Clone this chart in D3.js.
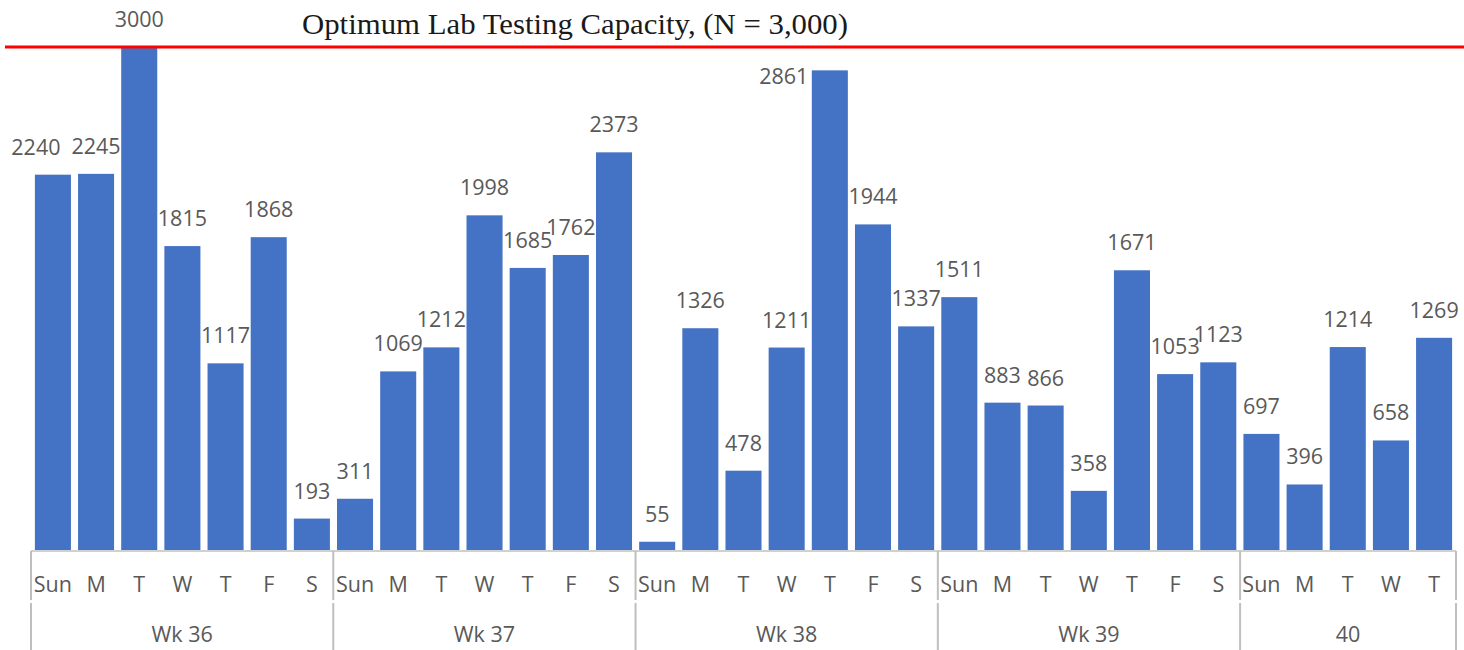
<!DOCTYPE html>
<html>
<head>
<meta charset="utf-8">
<script src="https://cdn.jsdelivr.net/npm/d3@7"></script>
<style>
  html, body { margin: 0; padding: 0; background: #ffffff; }
  svg { display: block; }
</style>
</head>
<body>
<svg id="chart" width="1464" height="650"></svg>
<script>
// ---- data ----
const weeks = ["Wk 36", "Wk 37", "Wk 38", "Wk 39", "40"];
const dayLabels = [
  ["Sun", "M", "T", "W", "T", "F", "S"],
  ["Sun", "M", "T", "W", "T", "F", "S"],
  ["Sun", "M", "T", "W", "T", "F", "S"],
  ["Sun", "M", "T", "W", "T", "F", "S"],
  ["Sun", "M", "T", "W", "T"]
];
const testsWk36 = [2240, 2245, 3000, 1815, 1117, 1868, 193];
const testsWk37 = [311, 1069, 1212, 1998, 1685, 1762, 2373];
const testsWk38 = [55, 1326, 478, 1211, 2861, 1944, 1337];
const testsWk39 = [1511, 883, 866, 358, 1671, 1053, 1123];
const testsWk40 = [697, 396, 1214, 658, 1269];
const capacity = 3000;
const titleText = "Optimum Lab Testing Capacity, (N = 3,000)";

// ---- build rows ----
const weekValues = [testsWk36, testsWk37, testsWk38, testsWk39, testsWk40];
const rows = [];
weekValues.forEach((vals, w) => {
  vals.forEach((v, d) => rows.push({ idx: rows.length, week: w, day: dayLabels[w][d], value: v }));
});

// ---- layout ----
const svg = d3.select("#chart");
const left = 31, right = 1456, base = 551;
const x = d3.scaleBand().domain(rows.map(r => r.idx)).range([left, right])
  .paddingInner(0.165).paddingOuter(0.09);
const y = d3.scaleLinear().domain([0, capacity]).range([base, 47]);

// bars
svg.append("g").selectAll("rect").data(rows).join("rect")
  .attr("x", d => x(d.idx))
  .attr("width", x.bandwidth())
  .attr("y", d => y(d.value))
  .attr("height", d => base - y(d.value))
  .attr("fill", "#4472C4");

// data labels (two were hand-moved in the original)
const labelNudge = { 0: [-17, 0], 18: [-46, 34] };
svg.append("g").selectAll("text").data(rows).join("text")
  .attr("x", d => x(d.idx) + x.bandwidth() / 2 + (labelNudge[d.idx] ? labelNudge[d.idx][0] : 0))
  .attr("y", d => y(d.value) - 20 + (labelNudge[d.idx] ? labelNudge[d.idx][1] : 0))
  .attr("text-anchor", "middle")
  .attr("font-family", "'Open Sans', 'Noto Sans', sans-serif")
  .attr("font-size", 21.5)
  .attr("fill", "#595959")
  .text(d => d.value);

// category axis
const axisG = svg.append("g");
axisG.append("line")
  .attr("x1", left).attr("x2", right).attr("y1", base).attr("y2", base)
  .attr("stroke", "#d0d0d0").attr("stroke-width", 2);

// week boundaries
const bounds = [0];
weekValues.forEach(v => bounds.push(bounds[bounds.length - 1] + v.length));
const bx = k => (k === rows.length ? right : left + k * (right - left) / rows.length);
bounds.forEach(k => {
  axisG.append("line").attr("x1", bx(k)).attr("x2", bx(k)).attr("y1", base).attr("y2", 600)
    .attr("stroke", "#bfbfbf").attr("stroke-width", 2);
  axisG.append("line").attr("x1", bx(k)).attr("x2", bx(k)).attr("y1", 603).attr("y2", 650)
    .attr("stroke", "#bfbfbf").attr("stroke-width", 2);
});

// day labels
axisG.append("g").selectAll("text").data(rows).join("text")
  .attr("x", d => x(d.idx) + x.bandwidth() / 2)
  .attr("y", 592)
  .attr("text-anchor", "middle")
  .attr("font-family", "'Open Sans', 'Noto Sans', sans-serif")
  .attr("font-size", 21.5)
  .attr("fill", "#595959")
  .text(d => d.day);

// week labels
axisG.append("g").selectAll("text").data(weeks).join("text")
  .attr("x", (d, i) => (bx(bounds[i]) + bx(bounds[i + 1])) / 2)
  .attr("y", 642)
  .attr("text-anchor", "middle")
  .attr("font-family", "'Open Sans', 'Noto Sans', sans-serif")
  .attr("font-size", 21.5)
  .attr("fill", "#595959")
  .text(d => d);

// capacity line + title
svg.append("line")
  .attr("x1", 5).attr("x2", 1464).attr("y1", y(capacity)).attr("y2", y(capacity))
  .attr("stroke", "#ff0000").attr("stroke-width", 3);
svg.append("text")
  .attr("x", 302).attr("y", 34)
  .attr("font-family", "'Liberation Serif', 'DejaVu Serif', serif")
  .attr("font-size", 29)
  .attr("fill", "#1a1a1a")
  .attr("textLength", 546).attr("lengthAdjust", "spacingAndGlyphs")
  .text(titleText);
</script>
</body>
</html>
